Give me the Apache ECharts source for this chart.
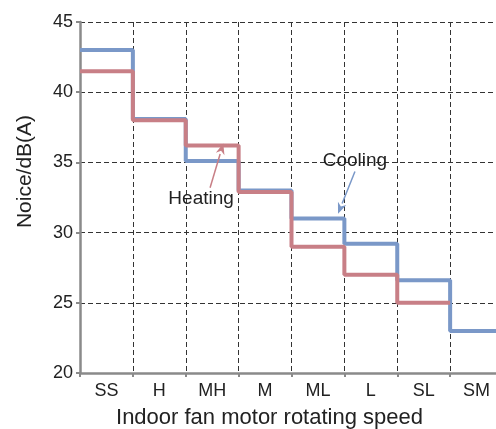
<!DOCTYPE html>
<html>
<head>
<meta charset="utf-8">
<script src="https://cdn.jsdelivr.net/npm/echarts@6/dist/echarts.min.js"></script>
<style>
html,body{margin:0;padding:0;background:#fff;}
#chart{width:496px;height:429px;}
</style>
</head>
<body>
<div id="chart"></div>
<script>
var categories = ['SS', 'H', 'MH', 'M', 'ML', 'L', 'SL', 'SM'];
var cooling = [43, 38.1, 35.1, 33, 31, 29.2, 26.6, 23];
var heating = [41.5, 38, 36.2, 32.9, 29, 27, 25, null];
var yTicks = [20, 25, 30, 35, 40, 45];

// step points: each speed occupies one band [i, i+1]
function stepPoints(vals) {
  var pts = [], last = -1;
  for (var i = 0; i < vals.length; i++) {
    if (vals[i] == null) continue;
    pts.push([i, vals[i]]);
    last = i;
  }
  if (last >= 0) pts.push([last + 1, vals[last]]);
  return pts;
}

var FONT = '"Liberation Sans", Arial, sans-serif';
var chart = echarts.init(document.getElementById('chart'), null, {renderer: 'canvas'});
var dashed = {show: true, lineStyle: {color: '#333', width: 1, type: [5, 3]}};

chart.setOption({
  animation: false,
  backgroundColor: '#fff',
  grid: {left: 80, top: 22, width: 423, height: 351, containLabel: false, outerBoundsMode: 'none'},
  xAxis: [{
    type: 'category',
    data: categories,
    boundaryGap: true,
    axisLine: {show: true, lineStyle: {color: '#8a8a8a', width: 2.5}},
    axisTick: {show: true, alignWithLabel: false, length: 4, lineStyle: {color: '#8a8a8a', width: 2}},
    axisLabel: {color: '#222', fontSize: 18, fontFamily: FONT, margin: 9},
    splitLine: dashed,
    name: 'Indoor fan motor rotating speed',
    nameLocation: 'middle',
    nameGap: 34,
    nameTextStyle: {color: '#222', fontSize: 22, fontFamily: FONT, padding: [0, 44, 0, 0]}
  }, {
    type: 'value', min: 0, max: 8, show: false
  }],
  yAxis: {
    type: 'value', min: yTicks[0], max: yTicks[yTicks.length - 1], interval: 5,
    axisLine: {show: true, lineStyle: {color: '#8a8a8a', width: 2.5}},
    axisTick: {show: true, length: 4, lineStyle: {color: '#8a8a8a', width: 2}},
    axisLabel: {color: '#222', fontSize: 18, fontFamily: FONT, margin: 7},
    splitLine: dashed,
    name: 'Noice/dB(A)',
    nameLocation: 'middle',
    nameGap: 44,
    nameRotate: 90,
    nameTextStyle: {color: '#222', fontSize: 21, fontFamily: FONT, padding: [0, 0, 0, 52]}
  },
  series: [{
    name: 'Cooling', type: 'line', xAxisIndex: 1, step: 'end', symbol: 'none',
    data: stepPoints(cooling),
    lineStyle: {color: '#7a98c8', width: 4}, z: 3
  }, {
    name: 'Heating', type: 'line', xAxisIndex: 1, step: 'end', symbol: 'none',
    data: stepPoints(heating),
    lineStyle: {color: '#c87f86', width: 4}, z: 4
  }]
});

// annotations (anchored in data coordinates)
var notes = [
  {text: 'Cooling', color: '#7a98c8', label: [5.2, 35.1], from: [5.2, 34.35], to: [4.88, 31.35]},
  {text: 'Heating', color: '#c87f86', label: [2.29, 32.4], from: [2.46, 33.2], to: [2.71, 36.35]}
];
function px(p) { return chart.convertToPixel({xAxisIndex: 1, yAxisIndex: 0}, p); }
var elements = [];
notes.forEach(function (n) {
  var l = px(n.label), a = px(n.from), b = px(n.to);
  elements.push({
    type: 'text', x: l[0], y: l[1], z: 10,
    style: {text: n.text, fill: '#222', font: '19px ' + FONT, align: 'center', verticalAlign: 'middle'}
  });
  var dx = b[0] - a[0], dy = b[1] - a[1], len = Math.sqrt(dx * dx + dy * dy);
  var ux = dx / len, uy = dy / len, hl = 11, hw = 4.5;
  var bx = b[0] - ux * hl, by = b[1] - uy * hl;
  elements.push({
    type: 'line', z: 10,
    shape: {x1: a[0], y1: a[1], x2: bx, y2: by},
    style: {stroke: n.color, lineWidth: 1.5}
  });
  elements.push({
    type: 'polygon', z: 10,
    shape: {points: [[b[0], b[1]], [bx - uy * hw, by + ux * hw], [b[0] - ux * hl * 0.7, b[1] - uy * hl * 0.7], [bx + uy * hw, by - ux * hw]]},
    style: {fill: n.color}
  });
});
chart.setOption({graphic: {elements: elements}});
</script>
</body>
</html>
